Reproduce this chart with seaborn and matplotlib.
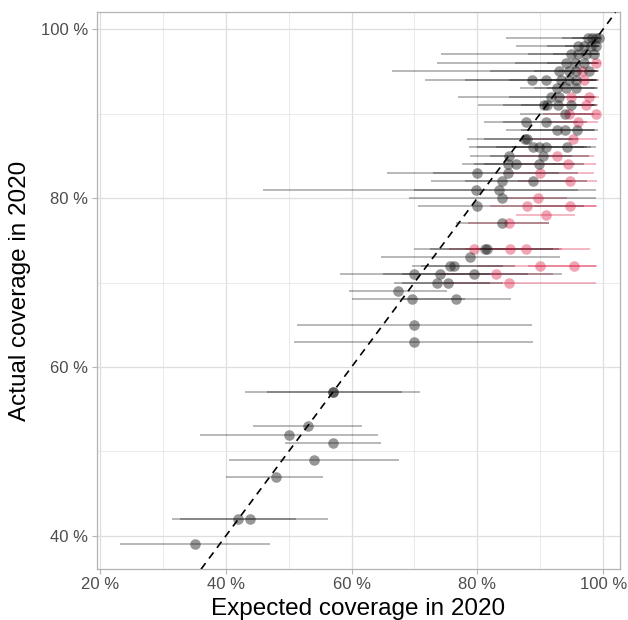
import numpy as np
import pandas as pd
import matplotlib
matplotlib.use('Agg')
import matplotlib.pyplot as plt
from matplotlib.ticker import FuncFormatter, MultipleLocator
import seaborn as sns

# actual coverage (y), expected coverage (x) and the interval of the expectation
actual = [99, 99, 99, 99,
          98, 98, 98, 98,
          97, 97, 97, 97,
          96, 96, 96, 96,
          95, 95, 95, 95, 95,
          94, 94, 94, 94, 94, 94,
          93, 93, 93,
          92, 92, 92, 92,
          91, 91, 91, 91, 91,
          90, 90, 90,
          89, 89, 89,
          88, 88, 88,
          87, 87, 87,
          86, 86, 86, 86,
          85, 85, 85,
          84, 84, 84, 84,
          83, 83, 83,
          82, 82, 82,
          81, 81,
          80, 80,
          79, 79, 79,
          78,
          77, 77,
          74, 74, 74, 74, 74,
          73,
          72, 72, 72, 72,
          71, 71, 71, 71,
          70, 70, 70,
          69,
          68, 68,
          65, 63,
          57, 57,
          53, 52, 51, 49, 47,
          42, 42,
          39]
expected = [97.6, 98.2, 98.8, 99.3,
            96.0, 97.0, 98.0, 98.8,
            94.9, 96.0, 97.2, 98.5,
            94.1, 95.5, 97.0, 98.8,
            93.0, 94.5, 95.7, 96.7, 97.8,
            88.7, 90.9, 93.3, 94.5, 95.7, 97.0,
            92.7, 94.1, 95.7,
            91.7, 93.0, 94.9, 97.8,
            90.6, 91.0, 92.8, 94.9, 97.2,
            94.0, 94.5, 98.8,
            87.7, 90.9, 96.0,
            92.6, 93.9, 95.9,
            87.5, 87.9, 95.2,
            88.8, 89.8, 90.9, 94.3,
            85.1, 90.4, 92.6,
            84.8, 86.1, 89.8, 94.4,
            80.0, 84.8, 89.9,
            83.9, 88.8, 94.7,
            79.8, 83.4,
            83.9, 89.6,
            79.9, 87.9, 94.8,
            90.9,
            83.9, 85.0,
            79.5, 81.2, 81.6, 85.2, 87.8,
            78.9,
            75.7, 76.3, 90.0, 95.3,
            70.0, 74.0, 79.5, 82.9,
            73.5, 75.3, 85.0,
            67.4,
            69.6, 76.6,
            69.9, 69.9,
            57.0, 57.1,
            53.0, 50.0, 57.0, 54.0, 47.9,
            42.0, 43.9,
            35.1]
lower = [84.6, 93.5, 95.0, 96.5,
         86.1, 91.0, 94.0, 96.0,
         74.2, 88.0, 92.0, 95.0,
         73.5, 86.0, 91.0, 97.3,
         66.4, 82.0, 89.0, 95.6, 93.0,
         71.7, 78.0, 85.0, 88.0, 90.0, 94.6,
         86.7, 89.0, 91.0,
         76.9, 85.0, 92.4, 94.5,
         80.1, 84.0, 87.0, 90.0, 93.0,
         86.8, 90.5, 94.0,
         81.0, 84.0, 91.0,
         84.5, 87.0, 88.0,
         78.4, 81.0, 88.5,
         78.7, 80.0, 83.0, 85.5,
         78.9, 82.0, 86.0,
         77.6, 79.5, 81.0, 85.5,
         65.7, 73.0, 84.0,
         72.6, 78.0, 86.5,
         45.9, 70.0,
         69.1, 84.6,
         70.6, 82.0, 89.0,
         86.1,
         76.6, 78.5,
         75.5, 70.0, 72.5, 78.0, 80.0,
         64.7,
         69.6, 71.0, 80.0, 88.0,
         58.1, 65.0, 68.0, 74.0,
         66.7, 68.0, 74.5,
         59.6,
         60.1, 68.0,
         51.3, 50.8,
         43.0, 46.5,
         44.3, 35.9, 49.4, 40.5, 40.1,
         31.4, 32.7,
         23.2]
upper = [99.4, 99.5, 99.6, 99.7,
         99.2, 99.3, 99.4, 99.5,
         99.2, 99.2, 99.3, 99.5,
         99.0, 99.1, 99.3, 99.6,
         98.9, 99.0, 99.1, 99.2, 99.4,
         98.5, 98.8, 98.9, 99.0, 99.1, 99.3,
         98.7, 99.0, 99.2,
         98.5, 98.8, 98.6, 99.3,
         98.5, 98.6, 98.8, 99.0, 99.2,
         98.6, 98.0, 99.5,
         96.0, 97.5, 99.2,
         98.5, 98.7, 99.1,
         95.0, 96.0, 99.0,
         97.0, 97.5, 98.0, 98.8,
         95.0, 97.8, 98.6,
         94.0, 95.5, 97.0, 98.8,
         93.0, 96.0, 98.5,
         95.0, 97.5, 99.0,
         96.0, 98.8,
         98.8, 94.2,
         97.0, 98.8, 99.0,
         95.6,
         91.4, 91.4,
         86.0, 92.0, 93.0, 93.5, 97.9,
         93.2,
         84.0, 86.0, 98.8, 99.0,
         82.0, 88.0, 93.5, 92.0,
         82.0, 84.0, 98.8,
         75.1,
         78.0, 85.3,
         88.7, 88.9,
         68.0, 70.8,
         61.7, 64.2, 64.6, 67.6, 55.5,
         51.2, 56.3,
         47.0]

df = pd.DataFrame({'actual': actual, 'expected': expected,
                   'lower': lower, 'upper': upper})
# below the expected interval -> highlighted
df['status'] = np.where(df['lower'] > df['actual'], 'below', 'within')
palette = {'within': '#1a1a1a', 'below': '#dc143c'}
point_alpha = {'within': 0.45, 'below': 0.38}
line_alpha = {'within': 0.4, 'below': 0.38}

sns.set_theme(style='white')
plt.rcParams['font.family'] = ['Liberation Sans', 'DejaVu Sans']

fig, ax = plt.subplots(figsize=(6.28, 6.2), dpi=100)
fig.subplots_adjust(left=0.154, right=0.987, top=0.980, bottom=0.082)

# intervals
for status, grp in df.groupby('status'):
    ax.hlines(grp['actual'], grp['lower'], grp['upper'],
              colors=palette[status], alpha=line_alpha[status],
              linewidth=1.1, zorder=2)

for status, grp in df.groupby('status'):
    sns.scatterplot(data=grp, x='expected', y='actual', color=palette[status],
                    s=58, alpha=point_alpha[status], linewidth=0,
                    legend=False, ax=ax, zorder=3)

ax.axline((0, 0), slope=1, color='black', linestyle=(0, (4.5, 3.5)),
          linewidth=1.2, zorder=4)

ax.set_xlim(19.47, 102.65)
ax.set_ylim(36.06, 101.98)

ax.xaxis.set_major_locator(MultipleLocator(20))
ax.xaxis.set_minor_locator(MultipleLocator(10))
ax.yaxis.set_major_locator(MultipleLocator(20))
ax.yaxis.set_minor_locator(MultipleLocator(10))
pct = FuncFormatter(lambda v, p: f'{v:.0f} %')
ax.xaxis.set_major_formatter(pct)
ax.yaxis.set_major_formatter(pct)

ax.grid(which='major', color='#dedede', linewidth=0.9, zorder=0)
ax.grid(which='minor', color='#e6e6e6', linewidth=0.6, zorder=0)
ax.set_axisbelow(True)

for sp in ax.spines.values():
    sp.set_visible(True)
    sp.set_color('#b3b3b3')
    sp.set_linewidth(0.9)

ax.tick_params(axis='both', which='major', length=3.5, width=0.8,
               color='#b3b3b3', labelsize=12, labelcolor='#4d4d4d', pad=2.5,
               bottom=True, left=True)
ax.tick_params(axis='both', which='minor', length=0)

ax.set_xlabel('Expected coverage in 2020', fontsize=17.5, color='black', labelpad=4)
ax.set_ylabel('Actual coverage in 2020', fontsize=17.5, color='black', labelpad=7)

fig.savefig('out.png', dpi=100)
